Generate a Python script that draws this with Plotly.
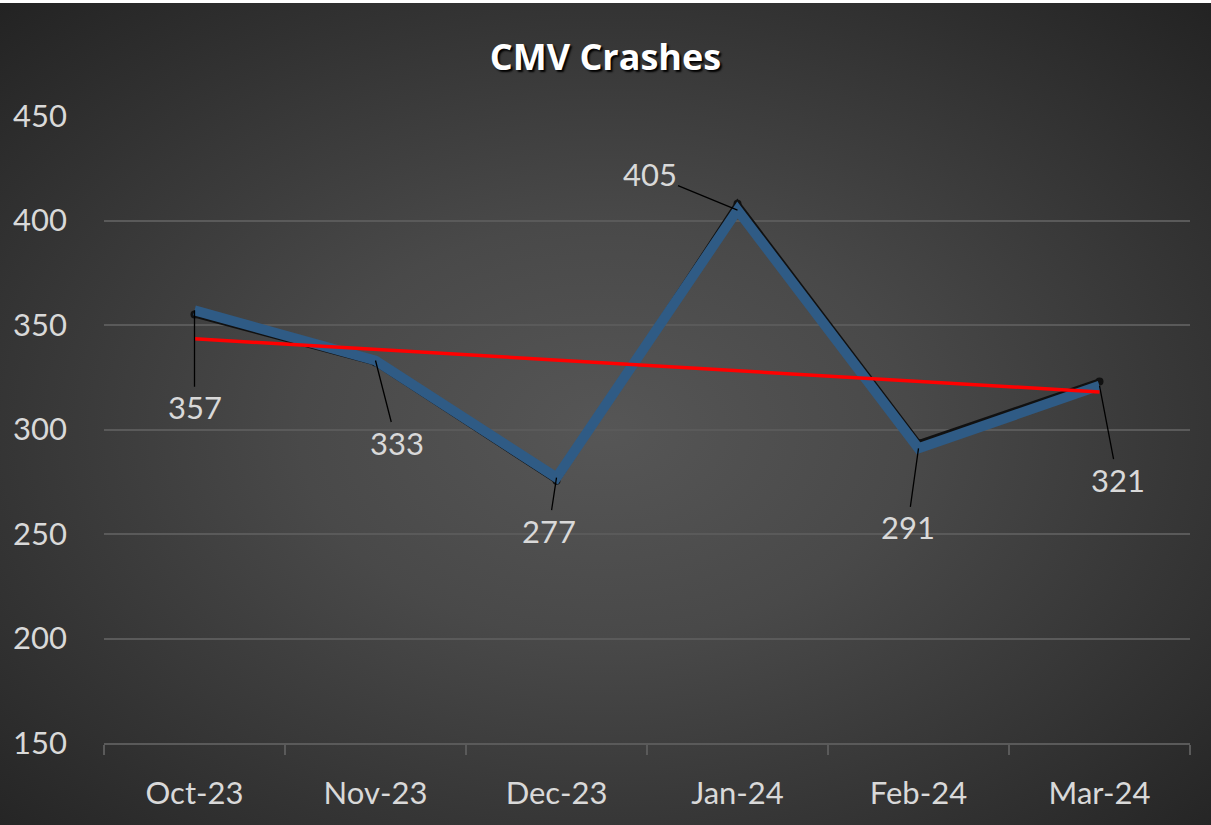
import base64
import numpy as np
import plotly.graph_objects as go

months = ["Oct-23", "Nov-23", "Dec-23", "Jan-24", "Feb-24", "Mar-24"]
crashes = [357, 333, 277, 405, 291, 321]
shadow_line = [355, 332, 275.5, 408, 293.5, 323]
y_ticks = [150, 200, 250, 300, 350, 400, 450]

# label placement offsets (pixels) for data labels
label_dx = [0, 21, -8, -88, -11, 18]
label_dy = [97, 82, 53, -36, 79, 94]

W, H = 1211, 825

# linear trendline (as Excel computes)
xi = np.arange(len(crashes))
slope, intercept = np.polyfit(xi, crashes, 1)
trend = [intercept + slope * i for i in xi]

svg = f'''<svg xmlns="http://www.w3.org/2000/svg" width="{W}" height="{H}" viewBox="0 0 {W} {H}" preserveAspectRatio="none">
<defs><radialGradient id="g" cx="50%" cy="52%" r="72%" gradientUnits="objectBoundingBox">
<stop offset="0" stop-color="#565656"/><stop offset="0.35" stop-color="#494949"/><stop offset="1" stop-color="#232323"/>
</radialGradient></defs>
<rect x="0" y="3" width="{W}" height="{H-3}" fill="url(#g)"/></svg>'''
bg = "data:image/svg+xml;base64," + base64.b64encode(svg.encode()).decode()

fig = go.Figure()
fig.add_trace(go.Scatter(x=months, y=shadow_line, mode="lines+markers",
                         line=dict(color="#111111", width=6),
                         marker=dict(color="#111111", size=8),
                         hoverinfo="skip", showlegend=False))
fig.add_trace(go.Scatter(x=months, y=crashes, mode="lines",
                         line=dict(color="#2f5b85", width=10),
                         showlegend=False, name="CMV Crashes"))
fig.add_trace(go.Scatter(x=months, y=trend, mode="lines",
                         line=dict(color="#ff0000", width=3.5),
                         hoverinfo="skip", showlegend=False))

for m, v, dx, dy in zip(months, crashes, label_dx, label_dy):
    fig.add_annotation(x=m, y=v, xref="x", yref="y", text=str(v),
                       showarrow=True, arrowhead=0, arrowwidth=1.3, arrowcolor="#000000",
                       ax=dx, ay=dy, standoff=0,
                       font=dict(family="Lato", size=31, color="#d9d9d9"))

fig.update_layout(
    width=W, height=H,
    margin=dict(l=0, r=0, t=0, b=0),
    paper_bgcolor="#ffffff",
    plot_bgcolor="rgba(0,0,0,0)",
    images=[dict(source=bg, xref="paper", yref="paper", x=0, y=1,
                 sizex=1, sizey=1, sizing="stretch", xanchor="left", yanchor="top",
                 layer="below")],
    title=dict(text="<b>CMV Crashes</b>", x=0.5, xanchor="center", y=1 - 57 / H, yanchor="middle",
               font=dict(family="Open Sans", size=36, color="#ffffff",
                         shadow="2px 2px 2px #000000")),
    font=dict(family="Lato", color="#d9d9d9"),
    xaxis=dict(domain=[104 / W, 1190 / W], range=[-0.5, len(months) - 0.5],
               showgrid=False, showline=True,
               linecolor="#5a5a5a", linewidth=1.5, ticks="outside", tickson="boundaries",
               ticklen=10, tickwidth=1.5, tickcolor="#5a5a5a",
               tickfont=dict(family="Lato", size=31, color="#d9d9d9"),
               ticklabelstandoff=22, automargin=False, fixedrange=True),
    yaxis=dict(domain=[1 - 743 / H, 1 - 116 / H], range=[150, 450], tickvals=y_ticks,
               showgrid=True, gridcolor="#5a5a5a", gridwidth=1.5, zeroline=False,
               showline=False, ticks="", tickfont=dict(family="Lato", size=31, color="#d9d9d9"),
               ticklabelstandoff=36, automargin=False, fixedrange=True),
)

fig.write_html("out.html", config={"displayModeBar": False})

# remove the default page margin so the figure fills the window exactly
with open("out.html", encoding="utf-8") as f:
    html = f.read()
html = html.replace("<head>", "<head><style>html,body{margin:0;padding:0;overflow:hidden;}</style>", 1)
with open("out.html", "w", encoding="utf-8") as f:
    f.write(html)
